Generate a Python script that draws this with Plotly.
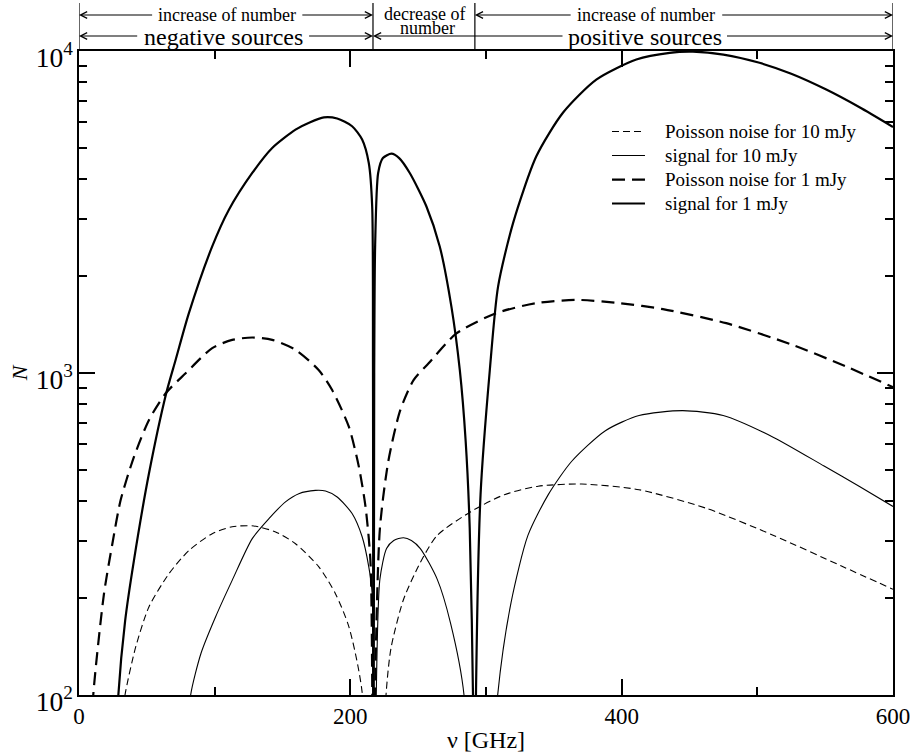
import plotly.graph_objects as go

# ---------------- data ----------------
nu_sig1 = [27, 29, 34, 40.5, 51.6, 64.3, 71.2, 81, 98.2, 110.5, 127.7, 142.4, 159.6, 170, 180.5,
           190.3, 201.3, 208.7, 213.6, 216.1, 216.7, 217.0, 217.6, 218.3, 220.5, 224, 230.3, 236,
           243.8, 256.1, 265.9, 274.5, 280.7, 285, 288, 290.4, 291.5, 292.6, 296, 302.8, 308.9,
           320, 337.1, 356.7, 381.3, 410.8, 435.4, 452.5, 475, 501.6, 525, 550.8, 575, 600]
N_sig1 = [60, 100, 170, 262, 488, 865, 1097, 1534, 2472, 3213, 4180, 5000, 5700, 6000, 6222,
          6170, 5840, 5310, 4490, 3290, 1000, 10, 1000, 2500, 4180, 4650, 4800, 4650,
          4180, 3290, 2472, 1607, 1020, 615, 330, 100, 10, 100, 420, 1020, 1855,
          2926, 4710, 6430, 8150, 9410, 9870, 9950, 9750, 9190, 8500, 7590, 6700, 5810]

nu_sig10 = [80, 82.3, 90, 100.7, 112.9, 127.7, 140, 152.2, 162, 174.3, 181.7, 190.3, 201.3,
            208.7, 213.6, 216.1, 216.6, 217.0, 219.1, 221.8, 226.7, 232, 239.2, 245, 251.6, 264,
            273.9, 283.8, 291.5, 308.6, 318.5, 330.9, 345.9, 363.2, 388, 412.8, 445, 474.8,
            512, 549.2, 575, 600]
N_sig10 = [70, 100, 135, 175, 227, 306, 353, 398, 422, 432, 430, 412, 366,
           310, 250, 206, 100, 5, 100, 229, 285, 302, 308, 302, 285, 229,
           167, 100, 5, 100, 194, 313, 419, 532, 662, 738, 764, 738,
           631, 514, 445, 385]

nu_poi10 = [32, 33.9, 41.8, 51.6, 66.3, 81, 98.2, 112.9, 128.9, 144.9, 159.6, 176.8, 189.1,
            198.9, 208.7, 217, 226.3, 230, 239.2, 251.6, 264, 288.8, 313.6, 338.4, 370.6, 412.8,
            462.4, 512, 561.6, 600]
N_poi10 = [85, 100, 141, 188, 238, 281, 317, 333, 335, 321, 295, 250, 206,
           163, 102, 10, 100, 140, 198, 258, 313, 371, 419, 445, 452, 434,
           380, 313, 252, 213]

nu_poi1 = [9, 10.5, 18.4, 24.6, 30.7, 40.5, 51.6, 63.9, 78.6, 98.2, 112.9, 127.7, 142.4, 159.6,
           176.8, 186.6, 198.9, 206.3, 211.2, 214.8, 216.2, 217, 218.2, 221.8, 228, 236.7, 246.6,
           257.7, 278.2, 307.7, 337.1, 366.6, 398.5, 430.4, 477.1, 526.2, 565.5, 600]
N_poi1 = [70, 100, 206, 295, 403, 549, 715, 865, 998, 1195, 1267, 1289, 1267, 1180,
          1020, 885, 681, 511, 384, 262, 100, 10, 100, 329, 532, 764, 950,
          1072, 1327, 1535, 1648, 1687, 1648, 1579, 1428, 1222, 1047, 904]

series_names = ["Poisson noise for 10 mJy", "signal for 10 mJy",
                "Poisson noise for 1 mJy", "signal for 1 mJy"]

x_range = [0, 600]
x_major_step, x_minor_step = 200, 100
y_log_range = [2, 4]           # 10^2 .. 10^4

nu_null_sz = 216.7     # divider between negative / positive sources
nu_null_cnt = 291.8    # divider between decrease / increase of number

# top band labels: text, centre, left/right extent of text (GHz), row
band_labels = [
    ("increase of number", 109.3, 55.0, 163.5, 1),
    ("increase of number", 418.0, 363.5, 473.0, 1),
    ("negative sources", 106.3, 44.0, 168.5, 2),
    ("positive sources", 417.0, 357.5, 476.5, 2),
]
band_arrow_ends = [(0, nu_null_sz), (nu_null_cnt, 600), (0, nu_null_sz), (nu_null_sz, 600)]

FONT = "Liberation Serif, Times New Roman, serif"

styles = [dict(width=1.1, dash="7px,4px"), dict(width=1.1, dash="solid"),
          dict(width=2.2, dash="13px,7px"), dict(width=2.2, dash="solid")]
xs = [nu_poi10, nu_sig10, nu_poi1, nu_sig1]
ys = [N_poi10, N_sig10, N_poi1, N_sig1]

fig = go.Figure()
for name, xv, yv, st in zip(series_names, xs, ys, styles):
    fig.add_trace(go.Scatter(x=xv, y=yv, mode="lines", name=name, showlegend=False,
                             line=dict(color="black", width=st["width"], dash=st["dash"],
                                       shape="spline", smoothing=0.7)))

shapes = []
annotations = []

# ---------------- legend (drawn in paper space) ----------------
leg_x0, leg_x1, leg_tx = 0.6548, 0.6953, 0.7174
leg_rows = [0.8750, 0.8377, 0.8004, 0.7632]
for name, st, yy in zip(series_names, styles, leg_rows):
    shapes.append(dict(type="line", xref="paper", yref="paper", x0=leg_x0, x1=leg_x1,
                       y0=yy, y1=yy, opacity=1,
                       line=dict(color="black", width=st["width"], dash=st["dash"])))
    annotations.append(dict(x=leg_tx, y=yy, xref="paper", yref="paper", text=name,
                            showarrow=False, xanchor="left", yanchor="middle",
                            font=dict(family=FONT, size=19, color="black")))

# ---------------- top annotation band ----------------
y_top = 1.0745
row_y = {1: 1.0559, 2: 1.0233}
for xv in [0, nu_null_sz, nu_null_cnt, 600]:
    shapes.append(dict(type="line", xref="x", yref="paper", x0=xv, x1=xv, y0=1, y1=y_top,
                       opacity=1, line=dict(color="black", width=1.2)))

def arrow(tail, head, y):
    annotations.append(dict(x=head, y=y, xref="x", yref="paper", ax=tail, ay=0, axref="x",
                            ayref="pixel", text="", showarrow=True, arrowhead=5,
                            arrowsize=1.2, arrowwidth=1.1, arrowcolor="black", standoff=0))

for (txt, xc, tl, tr, row), (a0, a1) in zip(band_labels, band_arrow_ends):
    y = row_y[row]
    arrow(tl, a0, y)
    arrow(tr, a1, y)
    size = 18 if row == 1 else 24
    dy = 0.0 if row == 1 else -0.002
    annotations.append(dict(x=xc, y=y + dy, xref="x", yref="paper", text=txt, showarrow=False,
                            font=dict(family=FONT, size=size, color="black"),
                            xanchor="center", yanchor="middle"))

annotations.append(dict(x=255, y=row_y[1] + 0.001, xref="x", yref="paper", text="decrease of",
                        showarrow=False, font=dict(family=FONT, size=18, color="black"),
                        xanchor="center", yanchor="middle"))
annotations.append(dict(x=257, y=row_y[1] - 0.020, xref="x", yref="paper", text="number",
                        showarrow=False, font=dict(family=FONT, size=18, color="black"),
                        xanchor="center", yanchor="middle"))

fig.update_layout(
    width=915, height=753,
    margin=dict(l=79, r=22, t=51, b=58, autoexpand=False),
    paper_bgcolor="white", plot_bgcolor="white",
    font=dict(family=FONT, size=22, color="black"),
    showlegend=False,
    shapes=shapes, annotations=annotations,
    xaxis=dict(range=x_range, showgrid=False, zeroline=False, automargin=False,
               showline=True, linecolor="black", linewidth=1.5, mirror="ticks",
               ticks="inside", ticklen=16, tickwidth=1.6, tickcolor="black",
               tickmode="linear", tick0=0, dtick=x_major_step,
               tickfont=dict(family=FONT, size=23, color="black"),
               minor=dict(ticks="inside", ticklen=8, tickwidth=1.6, tickcolor="black",
                          tick0=0, dtick=x_minor_step, showgrid=False),
               title=dict(text="ν [GHz]", font=dict(family=FONT, size=24), standoff=10)),
    yaxis=dict(type="log", range=y_log_range, showgrid=False, zeroline=False, automargin=False,
               showline=True, linecolor="black", linewidth=1.5, mirror="ticks",
               ticks="inside", ticklen=16, tickwidth=1.6, tickcolor="black",
               dtick=1, exponentformat="power", showexponent="all",
               ticklabelshift=6,
               tickfont=dict(family=FONT, size=22, color="black"),
               minor=dict(ticks="inside", ticklen=8, tickwidth=1.6, tickcolor="black",
                          dtick="D1", showgrid=False),
               title=dict(text="<i>N</i>", font=dict(family=FONT, size=22), standoff=2)),
)

fig.write_html("out.html")
